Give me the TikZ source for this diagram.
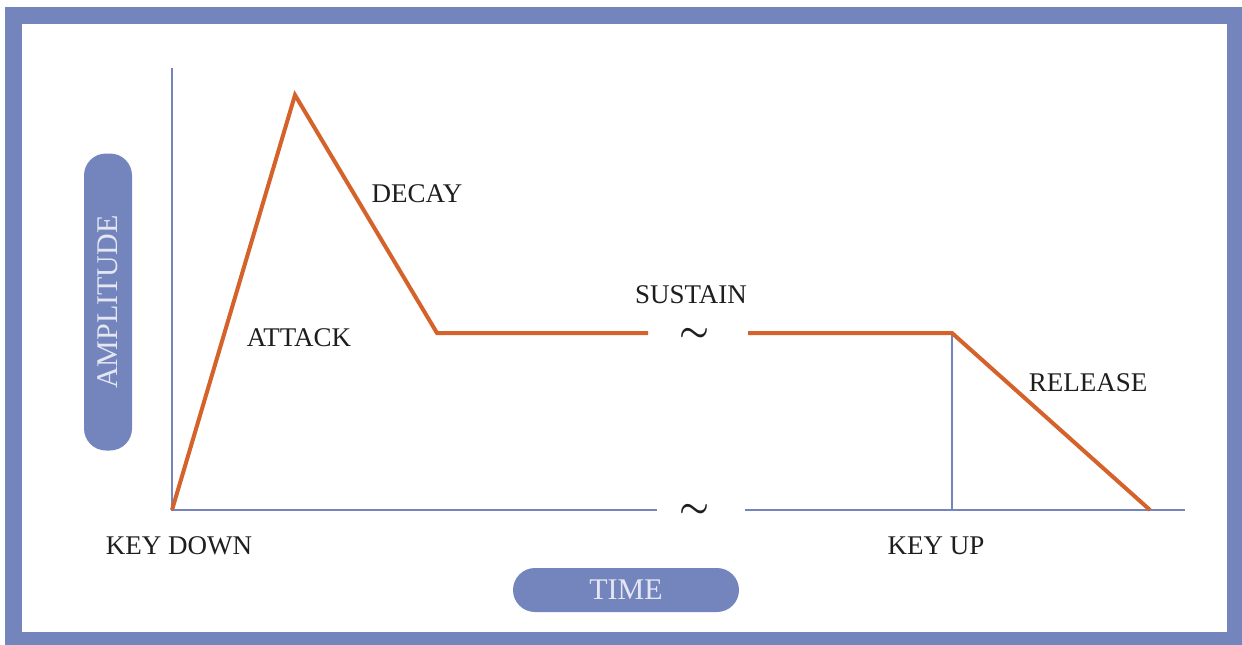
\documentclass[tikz,border=0pt]{standalone}
\usepackage{fontspec}
\setmainfont{Liberation Serif}
\usetikzlibrary{positioning}
\definecolor{frameblue}{RGB}{116,133,190}
\definecolor{envorange}{RGB}{212,98,42}
\definecolor{pilltext}{RGB}{228,231,242}
\definecolor{labelgrey}{RGB}{30,30,30}
\newcommand{\brktilde}{\scalebox{1.35}{\fontsize{24.88}{26}\selectfont\boldmath$\sim$}}

\begin{document}
\begin{tikzpicture}[x=1pt,y=-1pt,
	axis/.style={frameblue,line width=2pt},
	env/.style={envorange,line width=4pt,line join=miter},
	lbl/.style={labelgrey,font=\fontsize{27}{31}\selectfont,inner sep=0pt},
	pill/.style={fill=frameblue,text=pilltext,rounded corners=22pt,inner sep=0pt,font=\fontsize{30}{34}\selectfont},
	brk/.style={labelgrey,inner sep=0pt}]
	
	\useasboundingbox (0,0) rectangle (1242,645);
	\fill[frameblue] (5,7) rectangle (1242,645);
	\fill[white] (22,24) rectangle (1227,632);
	
	\coordinate (o) at (172,510);
	\coordinate (ytop) at (172,68);
	\coordinate (xa) at (657,510);
	\coordinate (xb) at (745,510);
	\coordinate (xend) at (1185,510);
	
	\coordinate (peak) at (295,95);
	\coordinate (dend) at (437,333);
	\coordinate (sa) at (648,333);
	\coordinate (sb) at (748,333);
	\coordinate (keyup) at (952,333);
	\coordinate (keyupb) at (952,510);
	\coordinate (rend) at (1150,510);
	
	\draw[axis] (ytop) -- (o) -- (xa);
	\draw[axis] (xb) -- (xend);
	\draw[axis] (keyup) -- (keyupb);
	
	\draw[env] (o) -- (peak) -- (dend) -- (sa);
	\draw[env] (sb) -- (keyup) -- (rend);
	
	\node[brk] (brktop) at (695,335) {\brktilde};
	\node[brk] (brkbot) at (695,511) {\brktilde};
	
	\node[lbl] (decay) at (417,194) {DECAY};
	\node[lbl] (attack) at (299,338) {ATTACK};
	\node[lbl] (sustain) at (691,295) {SUSTAIN};
	\node[lbl] (release) at (1088,383) {RELEASE};
	\node[lbl] (keydown) at (179,546) {KEY DOWN};
	\node[lbl] (keyuplbl) at (936,546) {KEY UP};
	
	\node[pill,rotate=90,minimum width=297pt,minimum height=48pt] (amp) at (108,302) {AMPLITUDE};
	\node[pill,minimum width=226pt,minimum height=44pt] (time) at (626,590) {TIME};
\end{tikzpicture}
\end{document}
